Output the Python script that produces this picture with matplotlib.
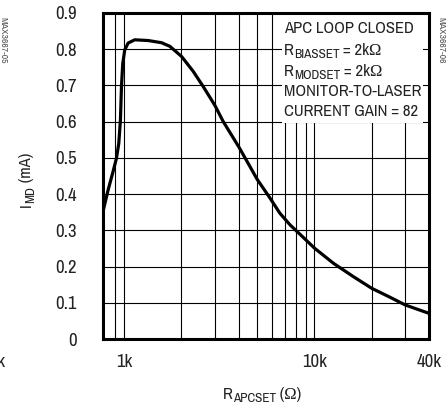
import matplotlib
matplotlib.use("Agg")
import matplotlib.pyplot as plt
from matplotlib.patches import Rectangle
from matplotlib.transforms import IdentityTransform

FONTS = ["Archivo Narrow", "Liberation Sans Narrow", "Liberation Serif", "DejaVu Sans"]
plt.rcParams["font.family"] = FONTS

# curve: R_APCSET (ohm) vs I_MD (mA)
r_apcset = [775, 824, 875, 912, 938, 957, 969, 984, 1008, 1050, 1138, 1338,
            1573, 1740, 2005, 2307, 2605, 3000, 3321, 4000, 4587, 5000, 5845,
            6590, 7450, 8760, 10000, 12590, 16040, 20000, 25020, 30000, 39900]
i_md = [0.352, 0.411, 0.462, 0.499, 0.540, 0.605, 0.697, 0.760, 0.798, 0.817,
        0.826, 0.824, 0.818, 0.808, 0.780, 0.739, 0.697, 0.645, 0.600, 0.531,
        0.476, 0.441, 0.389, 0.347, 0.315, 0.280, 0.251, 0.209, 0.172, 0.140,
        0.115, 0.094, 0.071]

x_major = [1000, 10000, 40000]
x_major_labels = ["1k", "10k", "40k"]
x_minor = [900, 2000, 3000, 4000, 5000, 6000, 7000, 8000, 9000, 20000, 30000]
y_ticks = [0, 0.1, 0.2, 0.3, 0.4, 0.5, 0.6, 0.7, 0.8, 0.9]
y_labels = ["0", "0.1", "0.2", "0.3", "0.4", "0.5", "0.6", "0.7", "0.8", "0.9"]

# each note line: list of (text, is_subscript)
note_lines = [[("APC LOOP CLOSED", False)],
              [("R", False), ("BIASSET", True), (" = 2kΩ", False)],
              [("R", False), ("MODSET", True), (" = 2kΩ", False)],
              [("MONITOR-TO-LASER", False)],
              [("CURRENT GAIN = 82", False)]]
x_label = [("R", False), ("APCSET", True), (" (Ω)", False)]
y_label = [("I", False), ("MD", True), (" (mA)", False)]

W, H = 447, 404
FS, SUB, TICK = 12, 9.5, 13.5
TXT = "#222222"

fig = plt.figure(figsize=(W / 100, H / 100), dpi=100)
ax = fig.add_axes([103 / W, 1 - 339 / H, 326 / W, 326 / H])
renderer = fig.canvas.get_renderer()


def rich(x, y, pieces, rotation=0, measure_only=False):
    """draw text pieces one after another, starting at pixel (x, y) baseline
    (y counted from the bottom). returns total advance."""
    pos = 0.0
    arts = []
    for txt, sub in pieces:
        size = SUB if sub else FS
        dy = -3 if sub else 0
        if rotation == 90:
            xy = (x - dy, y + pos)
        else:
            xy = (x + pos, y + dy)
        t = fig.text(xy[0], xy[1], txt, fontsize=size, color=TXT,
                     rotation=rotation, ha="left", va="baseline",
                     rotation_mode="anchor", transform=IdentityTransform())
        ext = t.get_window_extent(renderer)
        pos += ext.height if rotation == 90 else ext.width
        arts.append(t)
    if measure_only:
        for t in arts:
            t.remove()
    return pos


ax.set_xscale("log")
ax.set_xlim(775, 40000)
ax.set_ylim(0, 0.9)

ax.set_xticks(x_major)
ax.set_xticklabels(x_major_labels)
ax.set_xticks(x_minor, minor=True)
ax.set_xticklabels([], minor=True)
ax.set_yticks(y_ticks)
ax.set_yticklabels(y_labels)
ax.tick_params(which="both", length=0, labelsize=TICK, colors=TXT)
ax.tick_params(axis="y", pad=19)
ax.tick_params(axis="x", pad=11)

ax.set_axisbelow(True)
ax.grid(True, which="both", color="black", lw=0.8)
for s in ax.spines.values():
    s.set_linewidth(2.2)

ax.plot(r_apcset, i_md, color="black", lw=2.3, zorder=3, solid_capstyle="round")

# white box behind the note
ax.add_patch(Rectangle((0.549, 0.663), 0.433, 0.34, transform=ax.transAxes,
                       facecolor="white", edgecolor="none", zorder=1.5))
baselines = [33, 55, 76, 96, 116]
for pieces, b in zip(note_lines, baselines):
    rich(284, H - b, pieces)

# axis labels, centred
wx = rich(0, 0, x_label, measure_only=True)
rich(262 - wx / 2, H - 399, x_label)
wy = rich(0, 0, y_label, rotation=90, measure_only=True)
rich(31, H - 180 - wy / 2, y_label, rotation=90)

fig.text(441 / W, 1 - 40 / H, "MAX3667-06", rotation=270, fontsize=7,
         ha="center", va="center", color="#555555")
fig.text(3 / W, 1 - 40 / H, "MAX3667-05", rotation=270, fontsize=7,
         ha="center", va="center", color="#555555")
fig.text(6 / W, 1 - 362 / H, "40k", fontsize=TICK, ha="right", va="center",
         color=TXT)

fig.savefig("out.png", dpi=100)
